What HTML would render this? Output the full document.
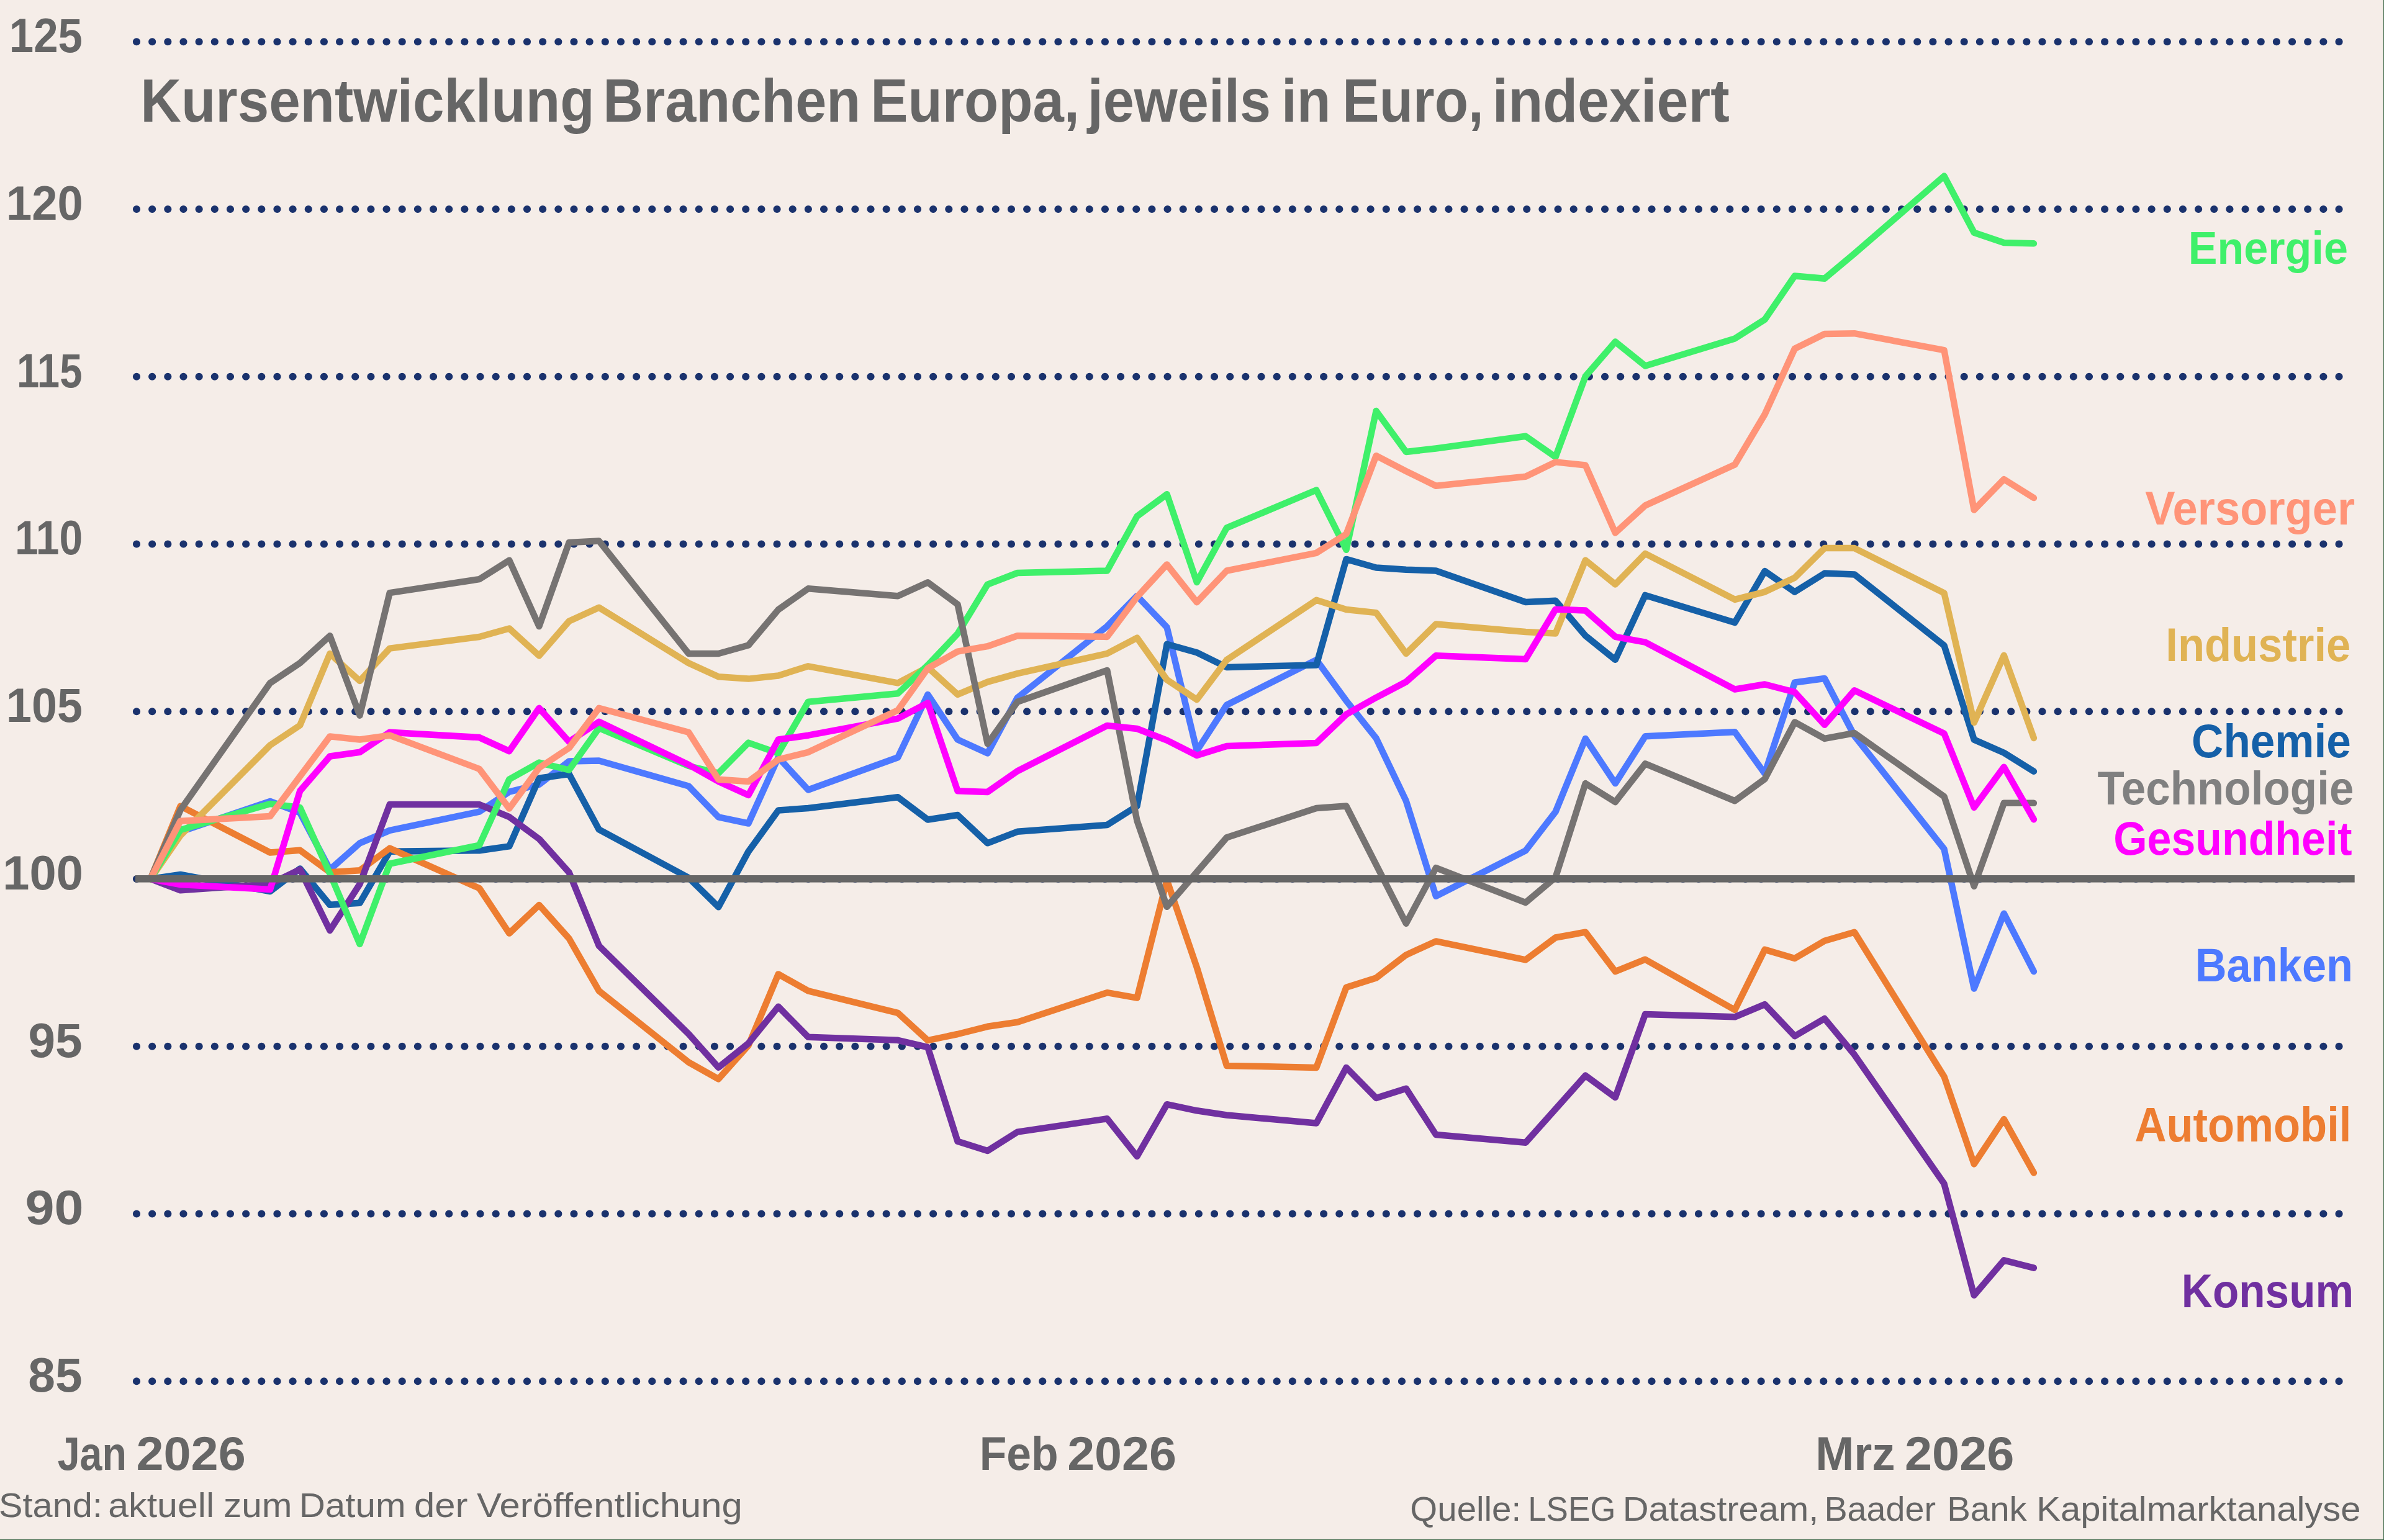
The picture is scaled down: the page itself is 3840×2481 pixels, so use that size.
<!DOCTYPE html>
<html><head><meta charset="utf-8"><title>Kursentwicklung Branchen Europa</title>
<style>html,body{margin:0;padding:0;background:#f5ede8;width:3840px;height:2481px;overflow:hidden}</style>
</head><body>
<svg width="3840" height="2481" viewBox="0 0 3840 2481" style="position:absolute;left:0;top:0"><rect x="0" y="0" width="3840" height="2481" fill="#f5ede8"/><rect x="3839" y="0" width="1" height="2481" fill="#3a6645"/><rect x="0" y="2480" width="3840" height="1" fill="#3a6645"/><g font-family="'Liberation Sans', sans-serif"><line x1="220" y1="67.25" x2="3767.56" y2="67.25" stroke="#1a326d" stroke-width="12.2" stroke-linecap="round" stroke-dasharray="0 25.16"/><line x1="220" y1="337.00" x2="3767.56" y2="337.00" stroke="#1a326d" stroke-width="12.2" stroke-linecap="round" stroke-dasharray="0 25.16"/><line x1="220" y1="606.75" x2="3767.56" y2="606.75" stroke="#1a326d" stroke-width="12.2" stroke-linecap="round" stroke-dasharray="0 25.16"/><line x1="220" y1="876.50" x2="3767.56" y2="876.50" stroke="#1a326d" stroke-width="12.2" stroke-linecap="round" stroke-dasharray="0 25.16"/><line x1="220" y1="1146.25" x2="3767.56" y2="1146.25" stroke="#1a326d" stroke-width="12.2" stroke-linecap="round" stroke-dasharray="0 25.16"/><line x1="220" y1="1416.00" x2="3767.56" y2="1416.00" stroke="#1a326d" stroke-width="12.2" stroke-linecap="round" stroke-dasharray="0 25.16"/><line x1="220" y1="1685.75" x2="3767.56" y2="1685.75" stroke="#1a326d" stroke-width="12.2" stroke-linecap="round" stroke-dasharray="0 25.16"/><line x1="220" y1="1955.50" x2="3767.56" y2="1955.50" stroke="#1a326d" stroke-width="12.2" stroke-linecap="round" stroke-dasharray="0 25.16"/><line x1="220" y1="2225.25" x2="3767.56" y2="2225.25" stroke="#1a326d" stroke-width="12.2" stroke-linecap="round" stroke-dasharray="0 25.16"/><text transform="translate(14.85,84.05) scale(0.9151,1)" font-size="77.39" font-weight="bold" fill="#666666">125</text><text transform="translate(10.05,353.80) scale(0.9588,1)" font-size="77.39" font-weight="bold" fill="#666666">120</text><text transform="translate(27.08,623.55) scale(0.8445,1)" font-size="77.39" font-weight="bold" fill="#666666">115</text><text transform="translate(23.93,893.30) scale(0.8756,1)" font-size="77.39" font-weight="bold" fill="#666666">110</text><text transform="translate(10.08,1163.05) scale(0.9527,1)" font-size="77.39" font-weight="bold" fill="#666666">105</text><text transform="translate(4.34,1432.80) scale(1.0041,1)" font-size="77.39" font-weight="bold" fill="#666666">100</text><text transform="translate(45.45,1702.55) scale(1.0142,1)" font-size="77.39" font-weight="bold" fill="#666666">95</text><text transform="translate(40.46,1972.30) scale(1.0933,1)" font-size="77.39" font-weight="bold" fill="#666666">90</text><text transform="translate(45.34,2242.05) scale(1.0154,1)" font-size="77.39" font-weight="bold" fill="#666666">85</text><text transform="translate(226.35,196.30) scale(0.9238,1)" font-size="98.26" font-weight="bold" fill="#666666">Kursentwicklung</text><text transform="translate(971.30,196.30) scale(0.9155,1)" font-size="98.26" font-weight="bold" fill="#666666">Branchen</text><text transform="translate(1402.28,196.30) scale(0.9202,1)" font-size="98.26" font-weight="bold" fill="#666666">Europa,</text><text transform="translate(1751.80,196.30) scale(0.9159,1)" font-size="98.26" font-weight="bold" fill="#666666">jeweils</text><text transform="translate(2063.92,196.30) scale(0.9133,1)" font-size="98.26" font-weight="bold" fill="#666666">in</text><text transform="translate(2162.26,196.30) scale(0.9063,1)" font-size="98.26" font-weight="bold" fill="#666666">Euro,</text><text transform="translate(2403.70,196.30) scale(0.9328,1)" font-size="98.26" font-weight="bold" fill="#666666">indexiert</text><text transform="translate(92.71,2368.30) scale(0.8435,1)" font-size="76.52" font-weight="bold" fill="#666666">Jan</text><text transform="translate(219.52,2368.30) scale(1.0352,1)" font-size="76.52" font-weight="bold" fill="#666666">2026</text><text transform="translate(1577.72,2368.30) scale(0.9327,1)" font-size="76.52" font-weight="bold" fill="#666666">Feb</text><text transform="translate(1719.13,2368.30) scale(1.0334,1)" font-size="76.52" font-weight="bold" fill="#666666">2026</text><text transform="translate(2924.22,2368.30) scale(0.9749,1)" font-size="76.52" font-weight="bold" fill="#666666">Mrz</text><text transform="translate(3068.02,2368.30) scale(1.0358,1)" font-size="76.52" font-weight="bold" fill="#666666">2026</text><text transform="translate(-1.89,2444.10) scale(1.0325,1)" font-size="55.89" font-weight="normal" fill="#666666">Stand:</text><text transform="translate(174.24,2444.10) scale(1.0575,1)" font-size="55.89" font-weight="normal" fill="#666666">aktuell</text><text transform="translate(360.06,2444.10) scale(1.0465,1)" font-size="55.89" font-weight="normal" fill="#666666">zum</text><text transform="translate(481.73,2444.10) scale(1.0435,1)" font-size="55.89" font-weight="normal" fill="#666666">Datum</text><text transform="translate(666.91,2444.10) scale(1.0710,1)" font-size="55.89" font-weight="normal" fill="#666666">der</text><text transform="translate(768.00,2444.10) scale(1.0700,1)" font-size="55.89" font-weight="normal" fill="#666666">Veröffentlichung</text><text transform="translate(2271.34,2450.00) scale(1.0075,1)" font-size="56.03" font-weight="normal" fill="#666666">Quelle:</text><text transform="translate(2461.16,2450.00) scale(0.9455,1)" font-size="56.03" font-weight="normal" fill="#666666">LSEG</text><text transform="translate(2613.76,2450.00) scale(1.0344,1)" font-size="56.03" font-weight="normal" fill="#666666">Datastream,</text><text transform="translate(2938.45,2450.00) scale(0.9939,1)" font-size="56.03" font-weight="normal" fill="#666666">Baader</text><text transform="translate(3136.19,2450.00) scale(1.0068,1)" font-size="56.03" font-weight="normal" fill="#666666">Bank</text><text transform="translate(3280.36,2450.00) scale(1.0355,1)" font-size="56.03" font-weight="normal" fill="#666666">Kapitalmarktanalyse</text><path d="M242.5,1415.9 L290.6,1340.0 L435.1,1291.0 L483.2,1309.3 L531.4,1401.0 L579.5,1358.4 L627.7,1337.8 L772.1,1307.7 L820.3,1275.6 L868.4,1263.8 L916.6,1226.5 L964.8,1225.5 L1109.2,1266.5 L1157.3,1316.3 L1205.5,1326.5 L1253.7,1220.2 L1301.8,1272.5 L1446.2,1220.2 L1494.4,1118.9 L1542.5,1191.5 L1590.7,1213.5 L1638.8,1124.0 L1783.3,1009.0 L1831.5,960.0 L1879.6,1010.7 L1927.8,1209.5 L1975.9,1135.7 L2120.3,1063.1 L2168.5,1128.9 L2216.6,1189.2 L2264.8,1290.2 L2312.9,1443.8 L2457.4,1370.4 L2505.5,1307.9 L2553.7,1189.9 L2601.8,1262.1 L2650.0,1186.3 L2794.4,1179.3 L2842.6,1246.2 L2890.8,1099.5 L2938.9,1093.0 L2987.0,1185.5 L3131.5,1367.8 L3179.7,1592.5 L3227.8,1471.7 L3275.9,1565.1" fill="none" stroke="#4d79ff" stroke-width="10.5" stroke-linejoin="round" stroke-linecap="round"/><path d="M242.5,1415.9 L290.6,1409.0 L435.1,1436.0 L483.2,1399.4 L531.4,1457.8 L579.5,1454.8 L627.7,1371.8 L772.1,1370.2 L820.3,1363.4 L868.4,1253.8 L916.6,1247.0 L964.8,1336.4 L1109.2,1414.0 L1157.3,1461.3 L1205.5,1371.8 L1253.7,1305.5 L1301.8,1302.0 L1446.2,1284.2 L1494.4,1320.5 L1542.5,1313.0 L1590.7,1358.3 L1638.8,1339.8 L1783.3,1329.0 L1831.5,1298.6 L1879.6,1037.7 L1927.8,1051.2 L1975.9,1074.9 L2120.3,1071.5 L2168.5,900.9 L2216.6,914.5 L2264.8,917.8 L2312.9,919.5 L2457.4,970.0 L2505.5,967.7 L2553.7,1024.1 L2601.8,1062.8 L2650.0,958.9 L2794.4,1002.9 L2842.6,920.1 L2890.8,953.6 L2938.9,923.6 L2987.0,925.4 L3131.5,1039.9 L3179.7,1191.6 L3227.8,1212.8 L3275.9,1242.7" fill="none" stroke="#1560a8" stroke-width="10.5" stroke-linejoin="round" stroke-linecap="round"/><path d="M242.5,1415.9 L290.6,1298.7 L435.1,1373.5 L483.2,1369.8 L531.4,1405.3 L579.5,1402.3 L627.7,1366.6 L772.1,1431.0 L820.3,1503.6 L868.4,1458.0 L916.6,1512.0 L964.8,1596.4 L1109.2,1711.3 L1157.3,1738.3 L1205.5,1684.2 L1253.7,1569.4 L1301.8,1596.4 L1446.2,1631.9 L1494.4,1676.2 L1542.5,1666.0 L1590.7,1653.8 L1638.8,1646.7 L1783.3,1599.2 L1831.5,1607.6 L1879.6,1418.0 L1927.8,1558.6 L1975.9,1716.9 L2120.3,1719.9 L2168.5,1590.7 L2216.6,1575.5 L2264.8,1538.4 L2312.9,1516.4 L2457.4,1546.3 L2505.5,1510.5 L2553.7,1501.7 L2601.8,1565.2 L2650.0,1545.7 L2794.4,1627.0 L2842.6,1529.9 L2890.8,1544.0 L2938.9,1515.8 L2987.0,1501.7 L3131.5,1734.4 L3179.7,1875.4 L3227.8,1803.1 L3275.9,1889.5" fill="none" stroke="#ed7d31" stroke-width="10.5" stroke-linejoin="round" stroke-linecap="round"/><path d="M242.5,1415.9 L290.6,1434.3 L435.1,1424.2 L483.2,1400.6 L531.4,1499.0 L579.5,1424.3 L627.7,1296.1 L772.1,1296.1 L820.3,1316.1 L868.4,1351.6 L916.6,1405.6 L964.8,1523.8 L1109.2,1665.7 L1157.3,1719.7 L1205.5,1680.9 L1253.7,1621.8 L1301.8,1670.7 L1446.2,1675.8 L1494.4,1687.2 L1542.5,1838.8 L1590.7,1854.0 L1638.8,1823.6 L1783.3,1802.3 L1831.5,1863.0 L1879.6,1779.2 L1927.8,1789.3 L1975.9,1796.5 L2120.3,1809.4 L2168.5,1719.9 L2216.6,1768.9 L2264.8,1753.7 L2312.9,1828.0 L2457.4,1840.8 L2553.7,1732.7 L2601.8,1767.9 L2650.0,1634.0 L2794.4,1638.3 L2842.6,1618.1 L2890.8,1669.2 L2938.9,1641.0 L2987.0,1699.2 L3131.5,1907.1 L3179.7,2086.8 L3227.8,2030.4 L3275.9,2042.7" fill="none" stroke="#7030a0" stroke-width="10.5" stroke-linejoin="round" stroke-linecap="round"/><path d="M242.5,1415.9 L290.6,1346.0 L435.1,1200.5 L483.2,1168.5 L531.4,1053.0 L579.5,1097.0 L627.7,1044.6 L772.1,1026.0 L820.3,1012.5 L868.4,1056.4 L916.6,1000.7 L964.8,978.7 L1109.2,1068.2 L1157.3,1090.2 L1205.5,1093.6 L1253.7,1088.5 L1301.8,1073.3 L1446.2,1100.3 L1494.4,1075.0 L1542.5,1118.9 L1590.7,1098.6 L1638.8,1085.1 L1783.3,1052.9 L1831.5,1027.6 L1879.6,1095.1 L1927.8,1127.2 L1975.9,1063.1 L2120.3,966.8 L2168.5,982.0 L2216.6,987.1 L2264.8,1052.9 L2312.9,1005.6 L2457.4,1018.0 L2505.5,1020.5 L2553.7,902.5 L2601.8,941.3 L2650.0,891.9 L2794.4,965.9 L2842.6,953.6 L2890.8,930.7 L2938.9,883.1 L2987.0,883.1 L3131.5,955.4 L3179.7,1164.0 L3227.8,1055.8 L3275.9,1189.0" fill="none" stroke="#e0b354" stroke-width="10.5" stroke-linejoin="round" stroke-linecap="round"/><path d="M242.5,1415.9 L290.6,1337.0 L435.1,1295.0 L483.2,1301.0 L531.4,1407.3 L579.5,1521.0 L627.7,1391.5 L772.1,1361.7 L820.3,1255.5 L868.4,1228.6 L916.6,1240.5 L964.8,1172.9 L1109.2,1234.0 L1157.3,1245.5 L1205.5,1196.6 L1253.7,1213.5 L1301.8,1130.7 L1446.2,1117.2 L1494.4,1071.6 L1542.5,1020.9 L1590.7,941.6 L1638.8,923.0 L1783.3,919.5 L1831.5,831.7 L1879.6,796.3 L1927.8,938.1 L1975.9,850.3 L2120.3,789.5 L2168.5,885.7 L2216.6,662.0 L2264.8,728.0 L2312.9,722.5 L2457.4,702.8 L2505.5,736.3 L2553.7,606.3 L2601.8,550.6 L2650.0,589.4 L2794.4,545.4 L2842.6,514.8 L2890.8,444.4 L2938.9,448.7 L2987.0,408.4 L3131.5,283.6 L3179.7,374.8 L3227.8,390.9 L3275.9,392.3" fill="none" stroke="#3ff06a" stroke-width="10.5" stroke-linejoin="round" stroke-linecap="round"/><path d="M242.5,1415.9 L290.6,1305.0 L435.1,1100.3 L483.2,1068.2 L531.4,1024.3 L579.5,1152.7 L627.7,955.1 L772.1,933.1 L820.3,902.7 L868.4,1009.1 L916.6,874.0 L964.8,871.5 L1109.2,1053.0 L1157.3,1053.0 L1205.5,1039.5 L1253.7,982.1 L1301.8,948.3 L1446.2,960.2 L1494.4,938.2 L1542.5,973.7 L1590.7,1198.2 L1638.8,1130.7 L1783.3,1079.9 L1831.5,1322.2 L1879.6,1460.7 L1975.9,1349.3 L2120.3,1302.0 L2168.5,1298.6 L2264.8,1487.7 L2312.9,1398.2 L2457.4,1454.1 L2505.5,1413.6 L2553.7,1262.1 L2601.8,1292.0 L2650.0,1230.4 L2794.4,1290.3 L2842.6,1255.0 L2890.8,1163.4 L2938.9,1189.9 L2987.0,1181.0 L3131.5,1283.2 L3179.7,1427.7 L3227.8,1293.8 L3275.9,1293.8" fill="none" stroke="#767372" stroke-width="10.5" stroke-linejoin="round" stroke-linecap="round"/><path d="M242.5,1415.9 L290.6,1425.0 L435.1,1433.0 L483.2,1274.3 L531.4,1218.5 L579.5,1211.8 L627.7,1179.7 L772.1,1188.1 L820.3,1210.1 L868.4,1140.8 L916.6,1194.9 L964.8,1162.8 L1109.2,1232.0 L1157.3,1259.0 L1205.5,1281.0 L1253.7,1191.5 L1301.8,1184.7 L1446.2,1157.7 L1494.4,1132.4 L1542.5,1274.2 L1590.7,1275.9 L1638.8,1242.2 L1783.3,1169.0 L1831.5,1174.0 L1879.6,1192.6 L1927.8,1217.0 L1975.9,1202.0 L2120.3,1197.0 L2168.5,1150.9 L2216.6,1123.8 L2264.8,1098.5 L2312.9,1056.3 L2457.4,1062.0 L2505.5,981.8 L2553.7,983.5 L2601.8,1025.8 L2650.0,1034.6 L2794.4,1110.5 L2842.6,1102.5 L2890.8,1115.0 L2938.9,1167.8 L2987.0,1112.3 L3131.5,1181.8 L3179.7,1300.8 L3227.8,1235.7 L3275.9,1320.2" fill="none" stroke="#ff00ff" stroke-width="10.5" stroke-linejoin="round" stroke-linecap="round"/><path d="M242.5,1415.9 L290.6,1322.7 L435.1,1315.0 L531.4,1186.4 L579.5,1191.5 L627.7,1184.7 L772.1,1238.8 L820.3,1302.5 L868.4,1237.0 L916.6,1205.0 L964.8,1140.8 L1109.2,1179.7 L1157.3,1255.7 L1205.5,1259.0 L1253.7,1223.6 L1301.8,1211.8 L1446.2,1144.2 L1494.4,1076.7 L1542.5,1049.7 L1590.7,1041.2 L1638.8,1024.3 L1783.3,1025.9 L1831.5,961.7 L1879.6,909.4 L1927.8,970.2 L1975.9,919.5 L2120.3,890.8 L2168.5,860.4 L2216.6,734.2 L2264.8,759.1 L2312.9,782.7 L2457.4,767.8 L2505.5,744.4 L2553.7,749.5 L2601.8,858.5 L2650.0,814.4 L2794.4,748.5 L2842.6,667.5 L2890.8,561.7 L2938.9,538.0 L2987.0,537.2 L3131.5,564.1 L3179.7,821.5 L3227.8,772.1 L3275.9,802.1" fill="none" stroke="#ff9478" stroke-width="10.5" stroke-linejoin="round" stroke-linecap="round"/><rect x="218" y="1410" width="3574.7" height="11.6" fill="#666666"/><text transform="translate(3524.79,425.00) scale(0.9486,1)" font-size="73.91" font-weight="bold" fill="#3ff06a">Energie</text><text transform="translate(3455.28,845.00) scale(0.9511,1)" font-size="76.09" font-weight="bold" fill="#ff9478">Versorger</text><text transform="translate(3488.27,1065.00) scale(0.9276,1)" font-size="76.09" font-weight="bold" fill="#e0b354">Industrie</text><text transform="translate(3530.06,1219.60) scale(0.9327,1)" font-size="76.23" font-weight="bold" fill="#1560a8">Chemie</text><text transform="translate(3378.59,1296.40) scale(0.9458,1)" font-size="75.07" font-weight="bold" fill="#808080">Technologie</text><text transform="translate(3404.20,1376.80) scale(0.9312,1)" font-size="75.07" font-weight="bold" fill="#ff00ff">Gesundheit</text><text transform="translate(3535.78,1581.40) scale(0.9200,1)" font-size="76.52" font-weight="bold" fill="#4d79ff">Banken</text><text transform="translate(3438.38,1839.00) scale(0.9125,1)" font-size="77.39" font-weight="bold" fill="#ed7d31">Automobil</text><text transform="translate(3513.84,2106.00) scale(0.9095,1)" font-size="76.23" font-weight="bold" fill="#7030a0">Konsum</text></g></svg>
</body></html>
